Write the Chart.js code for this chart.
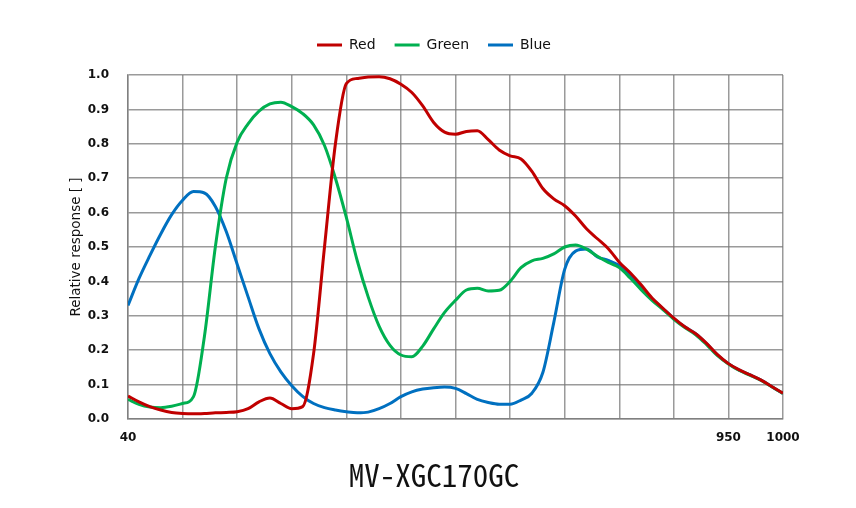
<!DOCTYPE html>
<html>
<head>
<meta charset="utf-8">
<script src="https://cdn.jsdelivr.net/npm/chart.js@4.4.1/dist/chart.umd.min.js"></script>
<style>
  html, body { margin: 0; padding: 0; background: #ffffff; }
  #wrap { width: 856px; height: 508px; position: relative; }
</style>
</head>
<body>
<div id="wrap"><canvas id="c" width="856" height="508"></canvas></div>
<script>
const chartTitle = "MV-XGC170GC";
const yAxisTitle = "Relative response [ ]";
const seriesNames = ["Red", "Green", "Blue"];
const xTickLabels = { 400: "40", 950: "950", 1000: "1000" };

const wavelengths = [400,410,420,430,440,450,460,470,480,490,500,510,520,530,540,550,560,570,580,590,600,610,620,630,640,650,660,670,680,690,700,710,720,730,740,750,760,770,780,790,800,810,820,830,840,850,860,870,880,890,900,910,920,930,940,950,960,970,980,990,1000];

const redValues = [0.067,0.050,0.036,0.026,0.019,0.016,0.015,0.016,0.018,0.019,0.021,0.030,0.050,0.061,0.045,0.030,0.036,0.190,0.500,0.800,0.975,0.990,0.994,0.995,0.989,0.973,0.949,0.910,0.862,0.834,0.828,0.836,0.838,0.812,0.782,0.765,0.756,0.720,0.670,0.640,0.620,0.590,0.553,0.524,0.495,0.456,0.425,0.390,0.352,0.322,0.293,0.268,0.248,0.220,0.187,0.161,0.143,0.128,0.113,0.094,0.075];

const greenValues = [0.057,0.043,0.035,0.033,0.037,0.045,0.065,0.240,0.500,0.700,0.805,0.858,0.895,0.916,0.921,0.908,0.888,0.855,0.795,0.700,0.586,0.460,0.355,0.270,0.214,0.186,0.181,0.212,0.262,0.310,0.345,0.375,0.380,0.372,0.374,0.400,0.440,0.460,0.467,0.480,0.500,0.506,0.494,0.473,0.455,0.440,0.410,0.376,0.345,0.318,0.290,0.266,0.245,0.216,0.184,0.160,0.141,0.127,0.112,0.093,0.074];

const blueValues = [0.330,0.408,0.475,0.538,0.594,0.636,0.661,0.657,0.618,0.545,0.450,0.355,0.262,0.190,0.137,0.097,0.066,0.045,0.033,0.026,0.021,0.018,0.020,0.030,0.045,0.065,0.079,0.087,0.091,0.093,0.089,0.074,0.057,0.048,0.043,0.043,0.055,0.075,0.135,0.280,0.435,0.488,0.494,0.471,0.461,0.446,0.417,0.384,0.350,0.321,0.292,0.268,0.248,0.219,0.186,0.161,0.142,0.128,0.113,0.094,0.074];

const seriesColors = ["#C00000", "#00B050", "#0070C0"];
const gridColor = "rgba(120,120,120,0.75)";

function toPoints(vals) {
  return wavelengths.map((w, i) => ({ x: w, y: vals[i] }));
}

const allSeries = [redValues, greenValues, blueValues];
const datasets = allSeries.map((vals, i) => ({
  label: seriesNames[i],
  data: toPoints(vals),
  borderColor: seriesColors[i],
  backgroundColor: seriesColors[i],
  borderWidth: 3,
  pointRadius: 0,
  fill: false,
  cubicInterpolationMode: "monotone"
}));

new Chart(document.getElementById("c"), {
  type: "line",
  data: { datasets },
  options: {
    responsive: false,
    animation: false,
    layout: { padding: { left: 85, right: 73, top: 19, bottom: 17 } },
    plugins: {
      legend: {
        position: "top",
        labels: {
          boxWidth: 25,
          boxHeight: 0,
          padding: 19,
          color: "#111",
          font: { family: "'DejaVu Sans', sans-serif", size: 14 }
        }
      },
      subtitle: {
        display: true,
        position: "top",
        weight: 500,
        text: " ",
        padding: { top: 0, bottom: 12 },
        font: { size: 1, lineHeight: 1 }
      },
      title: {
        display: true,
        position: "bottom",
        text: chartTitle,
        color: "#111",
        padding: { top: 1, bottom: 0 },
        font: { family: "'Noto Sans Mono CJK SC', 'DejaVu Sans Mono', monospace", size: 31, weight: "normal", lineHeight: 1.0 }
      },
      tooltip: { enabled: false }
    },
    scales: {
      x: {
        type: "linear",
        min: 400,
        max: 1000,
        afterBuildTicks: (scale) => {
          scale.ticks = wavelengths.filter(w => w % 50 === 0).map(v => ({ value: v }));
        },
        afterFit: (scale) => { scale.height = 40; },
        ticks: {
          autoSkip: false,
          maxRotation: 0,
          padding: 12,
          color: "#111",
          font: { family: "'DejaVu Sans', sans-serif", size: 12, weight: "bold" },
          callback: (v) => (xTickLabels[v] !== undefined ? xTickLabels[v] : "")
        },
        grid: { color: gridColor, lineWidth: 1.5, drawTicks: false },
        border: { color: gridColor, width: 1.5 }
      },
      y: {
        min: 0,
        max: 1,
        afterFit: (scale) => { scale.width = 43; },
        ticks: {
          stepSize: 0.1,
          padding: 19,
          color: "#111",
          font: { family: "'DejaVu Sans', sans-serif", size: 12, weight: "bold" },
          callback: (v) => Number(v).toFixed(1)
        },
        title: {
          display: true,
          text: yAxisTitle,
          color: "#111",
          padding: { top: -17, bottom: 0 },
          font: { family: "'DejaVu Sans', sans-serif", size: 13.5 }
        },
        grid: { color: gridColor, lineWidth: 1.5, drawTicks: false },
        border: { color: gridColor, width: 1.5 }
      }
    }
  }
});
</script>
</body>
</html>
